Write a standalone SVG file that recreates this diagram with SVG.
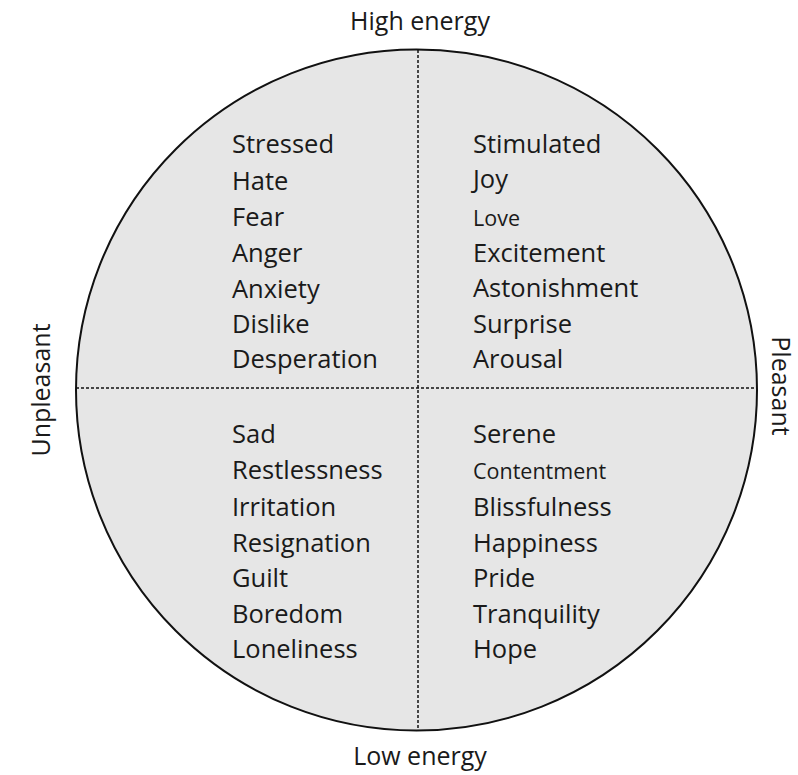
<svg xmlns="http://www.w3.org/2000/svg" width="798" height="775" viewBox="0 0 798 775">
<style>
.t{font-family:"Open Sans","Noto Sans",sans-serif;font-size:25.5px;fill:#1a1a1a}
.s{font-size:21.5px}
.lab{font-family:"Open Sans","Noto Sans",sans-serif;font-size:25px;fill:#1a1a1a}
.ax{stroke:#111;stroke-width:1.5;stroke-dasharray:3 2;fill:none}
</style>
<rect width="798" height="775" fill="#fff"/>
<g id="circle">
<circle cx="416.5" cy="390" r="340.5" fill="#e6e6e6" stroke="#111" stroke-width="2"/>
</g>
<g id="connectors">
<line class="ax" x1="418" y1="50" x2="418" y2="731"/>
<line class="ax" x1="76" y1="388" x2="757" y2="388"/>
</g>
<g id="axis-labels">
<text class="lab" x="420" y="30" text-anchor="middle">High energy</text>
<text class="lab" x="420" y="765" text-anchor="middle">Low energy</text>
<text class="lab" transform="translate(772 386) rotate(90)" text-anchor="middle">Pleasant</text>
<text class="lab" transform="translate(50 390) rotate(-90)" text-anchor="middle">Unpleasant</text>
</g>
<g id="q-stressed">
<text class="t" x="232" y="153">Stressed</text>
<text class="t" x="232" y="190">Hate</text>
<text class="t" x="232" y="226">Fear</text>
<text class="t" x="232" y="262">Anger</text>
<text class="t" x="232" y="298">Anxiety</text>
<text class="t" x="232" y="333">Dislike</text>
<text class="t" x="232" y="368">Desperation</text>
</g>
<g id="q-stimulated">
<text class="t" x="473" y="153">Stimulated</text>
<text class="t" x="473" y="188">Joy</text>
<text class="t s" x="473" y="226">Love</text>
<text class="t" x="473" y="262">Excitement</text>
<text class="t" x="473" y="297">Astonishment</text>
<text class="t" x="473" y="333">Surprise</text>
<text class="t" x="473" y="368">Arousal</text>
</g>
<g id="q-sad">
<text class="t" x="232" y="443">Sad</text>
<text class="t" x="232" y="479">Restlessness</text>
<text class="t" x="232" y="516">Irritation</text>
<text class="t" x="232" y="552">Resignation</text>
<text class="t" x="232" y="587">Guilt</text>
<text class="t" x="232" y="623">Boredom</text>
<text class="t" x="232" y="658">Loneliness</text>
</g>
<g id="q-serene">
<text class="t" x="473" y="443">Serene</text>
<text class="t s" x="473" y="479">Contentment</text>
<text class="t" x="473" y="516">Blissfulness</text>
<text class="t" x="473" y="552">Happiness</text>
<text class="t" x="473" y="587">Pride</text>
<text class="t" x="473" y="623">Tranquility</text>
<text class="t" x="473" y="658">Hope</text>
</g>
</svg>
